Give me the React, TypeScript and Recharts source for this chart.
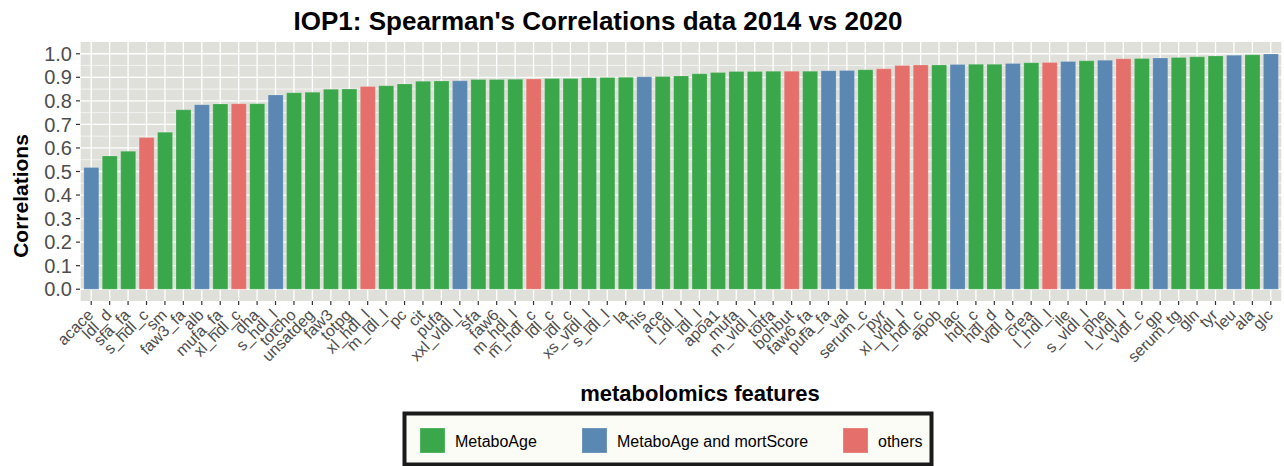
import { Bar, BarChart, CartesianGrid, Cell, XAxis, YAxis } from "recharts";

const FONT = "'Liberation Sans', Arial, Helvetica, sans-serif";

// metabolomics features, sorted by correlation
const features = [
  "acace", "ldl_d", "sfa_fa", "s_hdl_c", "sm", "faw3_fa", "alb", "mufa_fa", "xl_hdl_c", "dha",
  "s_hdl_l", "totcho", "unsatdeg", "faw3", "totpg", "xl_hdl_l", "m_ldl_l", "pc", "cit", "pufa",
  "xxl_vldl_l", "sfa", "faw6", "m_hdl_l", "m_hdl_c", "ldl_c", "idl_c", "xs_vldl_l", "s_ldl_l", "la",
  "his", "ace", "l_ldl_l", "idl_l", "apoa1", "mufa", "m_vldl_l", "totfa", "bohbut", "faw6_fa",
  "pufa_fa", "val", "serum_c", "pyr", "xl_vldl_l", "l_hdl_c", "apob", "lac", "hdl_c", "hdl_d",
  "vldl_d", "crea", "l_hdl_l", "ile", "s_vldl_l", "phe", "l_vldl_l", "vldl_c", "gp", "serum_tg",
  "gln", "tyr", "leu", "ala", "glc",
];

const correlations = [
  0.517, 0.566, 0.586, 0.644, 0.667, 0.762, 0.784, 0.787, 0.788, 0.788,
  0.825, 0.834, 0.837, 0.849, 0.85, 0.861, 0.864, 0.872, 0.883, 0.884,
  0.885, 0.891, 0.891, 0.892, 0.893, 0.895, 0.895, 0.898, 0.899, 0.9,
  0.902, 0.903, 0.906, 0.915, 0.92, 0.925, 0.925, 0.926, 0.926, 0.926,
  0.928, 0.929, 0.932, 0.936, 0.95, 0.952, 0.952, 0.954, 0.955, 0.955,
  0.959, 0.962, 0.963, 0.967, 0.97, 0.973, 0.979, 0.98, 0.982, 0.984,
  0.987, 0.991, 0.994, 0.996, 0.999,
];

// G = MetaboAge, B = MetaboAge and mortScore, R = others
const groups = [
  "B", "G", "G", "R", "G", "G", "B", "G", "R", "G",
  "B", "G", "G", "G", "G", "R", "G", "G", "G", "G",
  "B", "G", "G", "G", "R", "G", "G", "G", "G", "G",
  "B", "G", "G", "G", "G", "G", "G", "G", "R", "G",
  "B", "B", "G", "R", "R", "R", "G", "B", "G", "G",
  "B", "G", "R", "B", "G", "B", "R", "G", "B", "G",
  "G", "G", "B", "G", "B",
];

const legendKeys = ["G", "B", "R"];
const legendLabels = ["MetaboAge", "MetaboAge and mortScore", "others"];

const yTicks = [0, 0.1, 0.2, 0.3, 0.4, 0.5, 0.6, 0.7, 0.8, 0.9, 1.0];
const yMinor = [0.05, 0.15, 0.25, 0.35, 0.45, 0.55, 0.65, 0.75, 0.85, 0.95];

const COLORS: Record<string, string> = {
  G: "#3AA84A",
  B: "#5B88B3",
  R: "#E5706B",
};

const data = features.map((f, i) => ({ feature: f, value: correlations[i], group: groups[i] }));

function FeatureTick(props: any) {
  const { x, y, payload } = props;
  const px = x + 3;
  const py = y + 9;
  return (
    <text
      x={px}
      y={py}
      transform={`rotate(-45, ${px}, ${py})`}
      textAnchor="end"
      fontSize={16}
      fontFamily={FONT}
      fill="#4D4D4D"
    >
      {payload.value}
    </text>
  );
}

// legend item positions (x of swatch, x of label)
const legendSwatchX = [420, 582, 843];
const legendTextX = [455, 617, 878];

export default function App() {
  return (
    <div style={{ position: "absolute", left: 0, top: 0, width: 1284, height: 466, background: "#fff" }}>
      <BarChart
        width={1284}
        height={466}
        data={data}
        margin={{ top: 42, right: 2, bottom: 85, left: 0 }}
        barCategoryGap="10%"
      >
        <CartesianGrid fill="#E0E0DB" stroke="#FFFFFF" strokeWidth={0.6} vertical={false} horizontalValues={yMinor} />
        <CartesianGrid stroke="#FFFFFF" strokeWidth={1.3} horizontalValues={yTicks} />
        <XAxis
          dataKey="feature"
          interval={0}
          height={80}
          padding={{ left: 2, right: 2 }}
          axisLine={false}
          tickSize={4}
          tickMargin={2}
          tickLine={{ stroke: "#333333", strokeWidth: 1.2 }}
          tick={<FeatureTick />}
        />
        <YAxis
          width={80}
          domain={[-0.05, 1.05]}
          ticks={yTicks}
          interval={0}
          allowDataOverflow
          axisLine={false}
          tickSize={4}
          tickMargin={4}
          tickLine={{ stroke: "#333333", strokeWidth: 1.2 }}
          tickFormatter={(v: number) => v.toFixed(1)}
          tick={{ fill: "#4D4D4D", fontSize: 20, fontFamily: FONT }}
        />
        <Bar dataKey="value" isAnimationActive={false} stroke="rgba(255,255,255,0.35)" strokeWidth={0.5}>
          {data.map((d) => (
            <Cell key={d.feature} fill={COLORS[d.group]} />
          ))}
        </Bar>
      </BarChart>
      <svg
        width={1284}
        height={466}
        style={{ position: "absolute", left: 0, top: 0, pointerEvents: "none" }}
        fontFamily={FONT}
      >
        <text x={598} y={30} textAnchor="middle" fontSize={26} fontWeight="bold" fill="#000">
          IOP1: Spearman's Correlations data 2014 vs 2020
        </text>
        <text x={0} y={0} transform="translate(28, 196) rotate(-90)" textAnchor="middle" fontSize={21} fontWeight="bold" fill="#000">
          Correlations
        </text>
        <text x={700} y={401} textAnchor="middle" fontSize={22} fontWeight="bold" fill="#000">
          metabolomics features
        </text>
        <rect x={404.5} y={413.5} width={527} height={51} fill="#FCFCF6" stroke="#1A1A1A" strokeWidth={4} />
        {legendKeys.map((k, i) => (
          <g key={k}>
            <rect x={legendSwatchX[i]} y={428} width={25} height={25} fill={COLORS[k]} stroke="rgba(255,255,255,0.5)" strokeWidth={0.5} />
            <text x={legendTextX[i]} y={446.5} fontSize={16} fill="#000">
              {legendLabels[i]}
            </text>
          </g>
        ))}
      </svg>
    </div>
  );
}
